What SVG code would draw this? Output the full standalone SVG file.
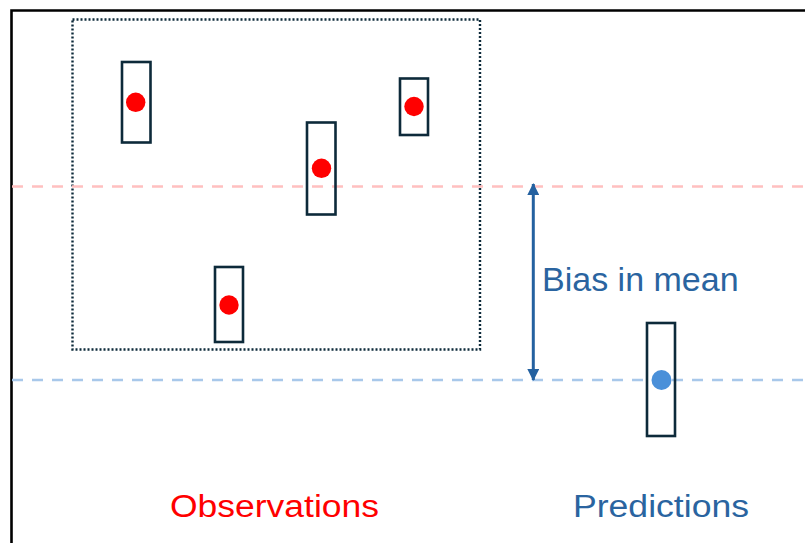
<svg xmlns="http://www.w3.org/2000/svg" width="805" height="543" viewBox="0 0 805 543">
<style>
.box{fill:none;stroke:#0d2a3a;stroke-width:2.6}
.obs{fill:#ff0000}
.pred{fill:#4a90d9}
.lbl{font-family:"Liberation Sans",Arial,sans-serif}
</style>
<defs>
<marker id="ah" viewBox="0 0 12 12" refX="11" refY="6" markerWidth="12" markerHeight="12" markerUnits="userSpaceOnUse" orient="auto-start-reverse">
<path d="M0,0 L12,6 L0,12 Z" fill="#2461a0"/>
</marker>
</defs>
<rect width="805" height="543" fill="#ffffff"/>
<g id="frame">
<path d="M11.5,543 L11.5,10.5 L805,10.5" fill="none" stroke="#000" stroke-width="2.6"/>
</g>
<g id="obs-group">
<rect x="72.5" y="19.5" width="407.5" height="330" fill="none" stroke="#0d2a3a" stroke-width="2.4" stroke-dasharray="2 2"/>
</g>
<g id="mean-lines">
<line x1="12" y1="186.5" x2="805" y2="186.5" stroke="#ffc0c0" stroke-width="2.5" stroke-dasharray="11 9"/>
<line x1="12" y1="380" x2="805" y2="380" stroke="#a8c8ea" stroke-width="2.5" stroke-dasharray="11 9"/>
</g>
<g id="obs1"><rect class="box" x="122" y="62" width="28.5" height="80.5"/><circle class="obs" cx="135.7" cy="102.3" r="9.7"/></g>
<g id="obs2"><rect class="box" x="307" y="122.5" width="28.5" height="92"/><circle class="obs" cx="321.5" cy="168.3" r="9.7"/></g>
<g id="obs3"><rect class="box" x="400" y="78.5" width="28" height="56.5"/><circle class="obs" cx="414" cy="106.5" r="9.7"/></g>
<g id="obs4"><rect class="box" x="215" y="267" width="28" height="75"/><circle class="obs" cx="229" cy="305" r="9.7"/></g>
<g id="pred"><rect class="box" x="647" y="323" width="28" height="113"/><circle class="pred" cx="661.5" cy="380" r="10"/></g>
<g id="connectors">
<line x1="533.3" y1="184" x2="533.3" y2="380" stroke="#2461a0" stroke-width="3" marker-start="url(#ah)" marker-end="url(#ah)"/>
</g>
<g id="labels">
<text class="lbl" x="542" y="291" font-size="34" fill="#2a64a0">Bias in mean</text>
<text class="lbl" x="170" y="517" font-size="31" fill="#ff0000" textLength="209" lengthAdjust="spacingAndGlyphs">Observations</text>
<text class="lbl" x="573" y="517" font-size="31" fill="#2a64a0" textLength="176" lengthAdjust="spacingAndGlyphs">Predictions</text>
</g>
</svg>
